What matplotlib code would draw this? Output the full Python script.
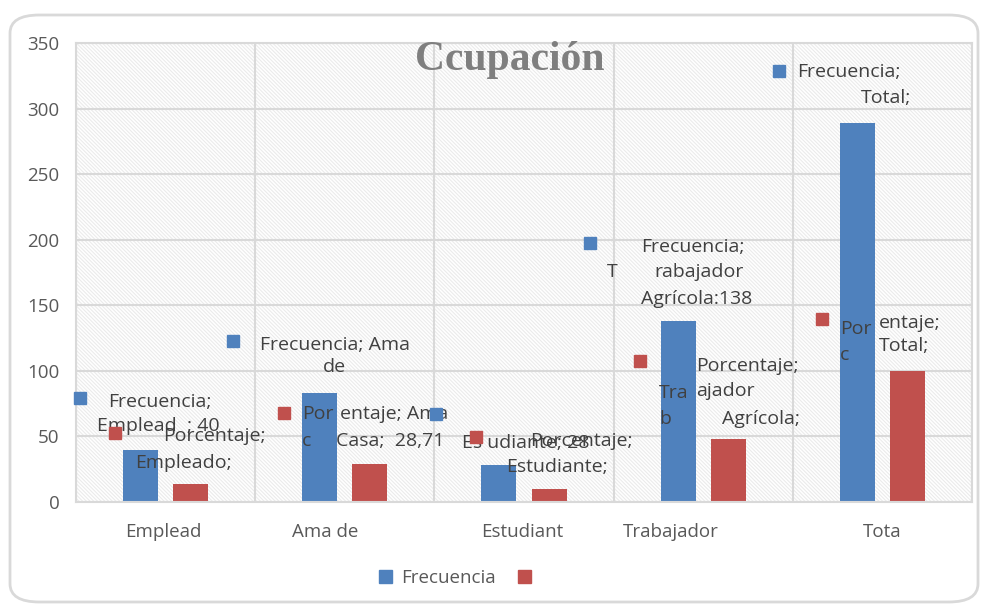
import numpy as np
import matplotlib.pyplot as plt
from matplotlib.patches import Rectangle, FancyBboxPatch, Patch

plt.rcParams['font.family'] = ['Open Sans', 'DejaVu Sans']
plt.rcParams['hatch.linewidth'] = 0.8

# data
categorias = ['Emplead', 'Ama de', 'Estudiant', 'Trabajador', 'Tota']
frecuencia = [40, 83, 28, 138, 289]
porcentaje = [13.84, 28.71, 9.69, 47.75, 100]
yticks = [0, 50, 100, 150, 200, 250, 300, 350]
label_shift = [-0.01, -0.11, -0.01, -0.18, 0.0]   # truncated tick labels sit off centre

azul = '#4f81bd'
rojo = '#c0504d'
gris = '#d9d9d9'

# placement of the (broken) data labels, in reference pixels
etiquetas = [
    ('Frecuencia;', 160, 402, 'center'),
    ('Emplead  ; 40', 97, 426, 'left'),
    ('Porcentaje;', 163, 436, 'left'),
    ('Empleado;', 135, 463, 'left'),
    ('Frecuencia; Ama', 260, 345, 'left'),
    ('de', 334, 367, 'center'),
    ('Por', 302, 414, 'left'),
    ('entaje; Ama', 340, 414, 'left'),
    ('c', 302, 441, 'left'),
    ('Casa;  28,71', 336, 441, 'left'),
    ('Es udiante; 28', 462, 443, 'left'),
    ('Porcentaje;', 530, 441, 'left'),
    ('Estudiante;', 506, 467, 'left'),
    ('Frecuencia;', 641, 247, 'left'),
    ('T', 607, 272, 'left'),
    ('rabajador', 654, 272, 'left'),
    ('Agrícola:138', 641, 299, 'left'),
    ('Porcentaje;', 696, 366, 'left'),
    ('Tra', 659, 393, 'left'),
    ('b', 659, 419, 'left'),
    ('ajador', 696, 391, 'left'),
    ('Agrícola;', 722, 419, 'left'),
    ('Por', 840, 329, 'left'),
    ('c', 840, 355, 'left'),
    ('entaje;', 879, 323, 'left'),
    ('Total;', 879, 346, 'left'),
    ('Frecuencia;', 797, 72, 'left'),
    ('Total;', 861, 98, 'left'),
]
marcas = [
    (azul, 80, 398), (azul, 233, 341), (azul, 436, 414), (azul, 590, 243), (azul, 779, 71),
    (rojo, 115, 433), (rojo, 284, 413), (rojo, 476, 437), (rojo, 640, 361), (rojo, 822, 319),
]

fig = plt.figure(figsize=(9.81, 6.06), dpi=100)
ax = fig.add_axes([76/981, 104/606, 896/981, 459/606])

def ref(px, py):  # reference pixel -> axes fraction
    return (px - 76) / 896, (502 - py) / 459

fondo = Rectangle((0, 0), 1, 1, transform=ax.transAxes, facecolor='white',
                  edgecolor='#ebebeb', lw=0, hatch='\\' * 9, zorder=0)
ax.add_patch(fondo)

x = np.arange(len(categorias))
ax.bar(x - 0.14, frecuencia, 0.196, color=azul, zorder=2)
ax.bar(x + 0.14, porcentaje, 0.196, color=rojo, zorder=2)

ax.set_xlim(-0.5, len(categorias) - 0.5)
ax.set_ylim(0, 350)
ax.set_yticks(yticks)
ax.set_xticks(x + np.array(label_shift))
ax.set_xticklabels(categorias)
ax.set_xticks(np.arange(len(categorias) + 1) - 0.5, minor=True)
ax.tick_params(axis='both', which='both', length=0, labelsize=13.5, colors='#595959')
ax.tick_params(axis='x', pad=15)
ax.tick_params(axis='y', pad=12)
ax.grid(axis='y', color=gris, lw=1.5, zorder=1)
ax.grid(axis='x', which='minor', color=gris, lw=1.5, zorder=1)
ax.grid(axis='x', which='major', visible=False)
for s in ax.spines.values():
    s.set_color(gris)
    s.set_linewidth(1.5)

for txt, px, py, ha in etiquetas:
    ax.text(*ref(px, py), txt, transform=ax.transAxes, ha=ha, va='center',
            fontsize=14, color='#404040', zorder=4, clip_on=False)
for c, px, py in marcas:
    ax.plot(*ref(px, py), marker='s', ms=8, color=c, transform=ax.transAxes,
            clip_on=False, zorder=4)

fig.text(510/981, 1 - 60/606, 'Ccupación', ha='center', va='center',
         family='Liberation Serif', weight='bold', fontsize=30, color='#7f7f7f')

fig.legend(handles=[Patch(color=azul, label='Frecuencia'), Patch(color=rojo, label=' ')],
           loc='center', bbox_to_anchor=(462/981, 1 - 578/606), ncol=2, frameon=False,
           fontsize=13.5, labelcolor='#595959', handlelength=0.7, handleheight=0.7,
           columnspacing=1.2, handletextpad=0.5)

borde = FancyBboxPatch((10/981, 4/606), 968/981, 587/606, boxstyle='round,pad=0,rounding_size=0.03',
                       transform=fig.transFigure, facecolor='none', edgecolor='#d9d9d9', lw=2)
fig.patches.append(borde)

fig.savefig('out.png', dpi=100)
